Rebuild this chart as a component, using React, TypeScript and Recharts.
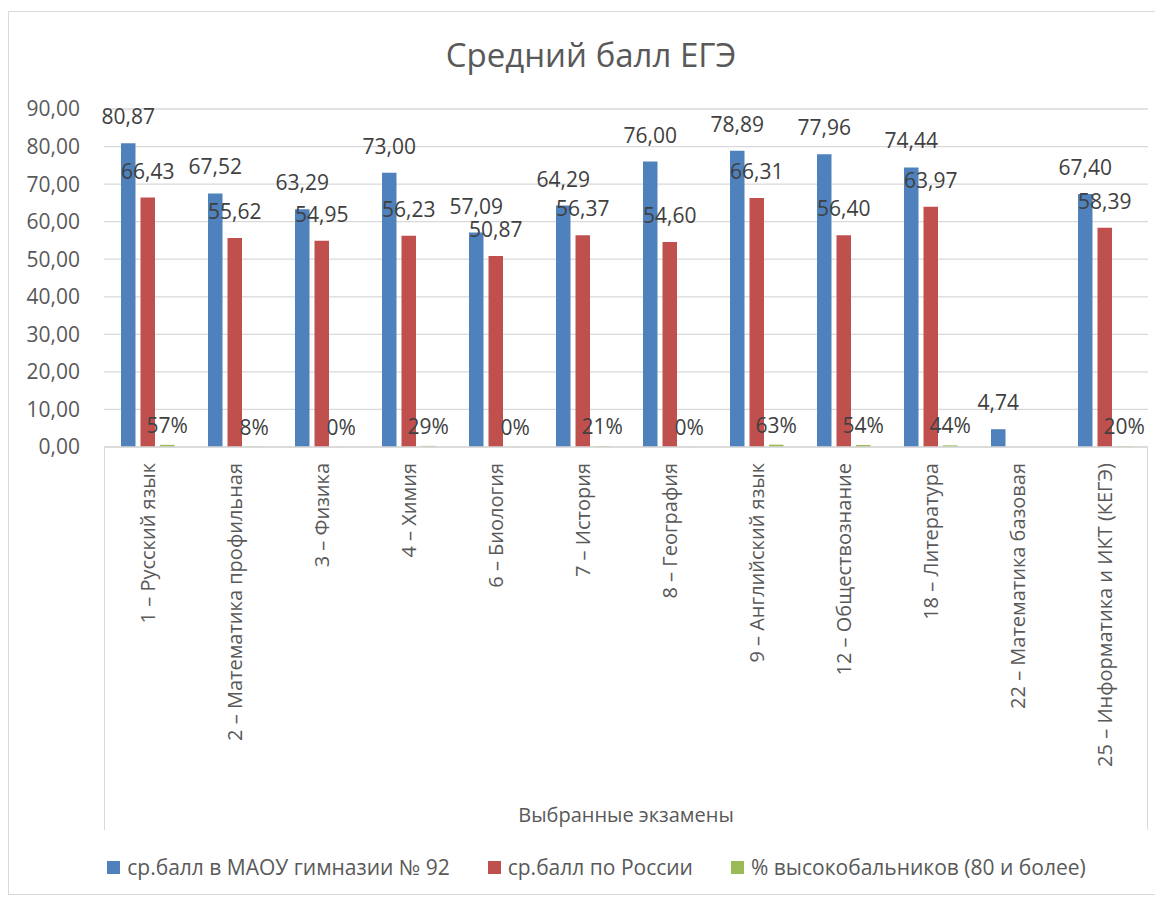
import React from 'react';
import { BarChart, Bar, XAxis, YAxis, CartesianGrid, Legend, LabelList } from 'recharts';

const categories = [
  '1 – Русский язык',
  '2 – Математика профильная',
  '3 – Физика',
  '4 – Химия',
  '6 – Биология',
  '7 – История',
  '8 – География',
  '9 – Английский язык',
  '12 – Обществознание',
  '18 – Литература',
  '22 – Математика базовая',
  '25 – Информатика и ИКТ (КЕГЭ)',
];

const schoolAvg = [80.87, 67.52, 63.29, 73.0, 57.09, 64.29, 76.0, 78.89, 77.96, 74.44, 4.74, 67.4];
const russiaAvg = [66.43, 55.62, 54.95, 56.23, 50.87, 56.37, 54.6, 66.31, 56.4, 63.97, null, 58.39];
const highScorerShare = [0.57, 0.08, 0, 0.29, 0, 0.21, 0, 0.63, 0.54, 0.44, null, 0.2];

const yTicks = [0, 10, 20, 30, 40, 50, 60, 70, 80, 90];

const seriesNames = {
  school: 'ср.балл в МАОУ гимназии № 92',
  russia: 'ср.балл по России',
  high: '% высокобальников (80 и более)',
};
const legendOrder = [seriesNames.school, seriesNames.russia, seriesNames.high];

const data = categories.map((name, i) => ({
  name,
  school: schoolAvg[i],
  russia: russiaAvg[i],
  high: highScorerShare[i],
}));

const FONT = '"Open Sans", sans-serif';
const TEXT = '#595959';
const LABEL = '#404040';
const GRID = '#d9d9d9';

const fmtNum = (v: any) => (v == null ? '' : Number(v).toFixed(2).replace('.', ','));
const fmtPct = (v: any) => (v == null ? '' : Math.round(Number(v) * 100) + '%');

const CategoryTick = (props: any) => {
  const { x, y, payload } = props;
  return (
    <g transform={`translate(${x},${y})`}>
      <text
        x={0}
        y={0}
        dy="0.35em"
        transform="rotate(-90)"
        textAnchor="end"
        fill={TEXT}
        fontSize={20}
        fontFamily={FONT}
      >
        {payload.value}
      </text>
    </g>
  );
};

const LegendContent = (props: any) => {
  const items = [...(props.payload || [])].sort(
    (a: any, b: any) => legendOrder.indexOf(a.value) - legendOrder.indexOf(b.value)
  );
  return (
    <div
      style={{
        height: 40,
        display: 'flex',
        justifyContent: 'center',
        alignItems: 'center',
        gap: 38,
        fontFamily: FONT,
        fontSize: 21,
        color: TEXT,
        paddingLeft: 36,
      }}
    >
      {items.map((p: any) => (
        <div key={p.value} style={{ display: 'flex', alignItems: 'center' }}>
          <span
            style={{
              display: 'inline-block',
              width: 13,
              height: 13,
              background: p.color,
              marginRight: 7,
            }}
          />
          <span>{p.value}</span>
        </div>
      ))}
    </div>
  );
};

export default function App() {
  return (
    <div
      style={{
        position: 'relative',
        width: 1150,
        height: 882,
        marginTop: 3,
        border: `1px solid ${GRID}`,
        background: '#fff',
        fontFamily: FONT,
      }}
    >
      <div
        style={{
          position: 'absolute',
          top: 21,
          left: 7,
          width: 1150,
          textAlign: 'center',
          fontSize: 33,
          lineHeight: '44px',
          color: TEXT,
        }}
      >
        Средний балл ЕГЭ
      </div>
      <div
        style={{
          position: 'absolute',
          left: 95,
          top: 435,
          width: 1044,
          height: 383,
          boxSizing: 'border-box',
          borderLeft: `1px solid ${GRID}`,
          borderRight: `1px solid ${GRID}`,
          pointerEvents: 'none',
        }}
      />
      <BarChart
        width={1150}
        height={882}
        data={data}
        margin={{ top: 97, right: 11, bottom: 7, left: 0 }}
        barSize={14.5}
        barGap={5}
        style={{ position: 'absolute', top: 0, left: 0 }}
      >
        <CartesianGrid vertical={false} stroke={GRID} strokeWidth={1.3} />
        <XAxis
          dataKey="name"
          interval={0}
          height={400}
          tickLine={false}
          tickSize={0}
          tickMargin={16}
          axisLine={{ stroke: GRID, strokeWidth: 1.3 }}
          tick={<CategoryTick />}
          label={{
            value: 'Выбранные экзамены',
            position: 'insideBottom',
            offset: 25,
            fill: TEXT,
            fontSize: 20,
            fontFamily: FONT,
          }}
        />
        <YAxis
          domain={[0, 90]}
          ticks={yTicks}
          width={95}
          axisLine={false}
          tickLine={false}
          tickSize={0}
          tickMargin={24}
          tickFormatter={fmtNum}
          tick={{ fill: TEXT, fontSize: 21, fontFamily: FONT }}
        />
        <Legend verticalAlign="bottom" content={<LegendContent />} />
        <Bar dataKey="school" name={seriesNames.school} fill="#4F81BD" isAnimationActive={false}>
          <LabelList
            dataKey="school"
            position="top"
            offset={19}
            formatter={fmtNum}
            fill={LABEL}
            fontSize={21}
            fontFamily={FONT}
          />
        </Bar>
        <Bar dataKey="russia" name={seriesNames.russia} fill="#C0504D" isAnimationActive={false}>
          <LabelList
            dataKey="russia"
            position="top"
            offset={19}
            formatter={fmtNum}
            fill={LABEL}
            fontSize={21}
            fontFamily={FONT}
          />
        </Bar>
        <Bar
          dataKey="high"
          name={seriesNames.high}
          fill="#9BBB59"
          minPointSize={0.2}
          isAnimationActive={false}
        >
          <LabelList
            dataKey="high"
            position="top"
            offset={12}
            formatter={fmtPct}
            fill={LABEL}
            fontSize={21}
            fontFamily={FONT}
          />
        </Bar>
      </BarChart>
    </div>
  );
}
